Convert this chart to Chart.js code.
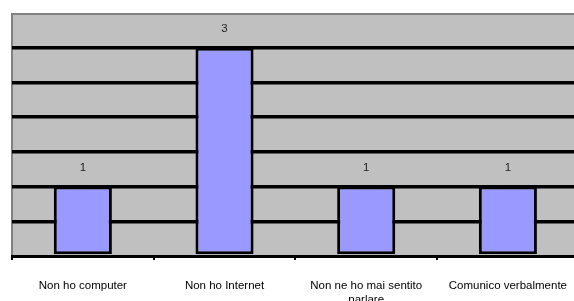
<!DOCTYPE html>
<html>
<head>
<meta charset="utf-8">
<script src="https://cdn.jsdelivr.net/npm/chart.js@4"></script>
<style>
  html, body { margin: 0; padding: 0; background: #fff; overflow: hidden; }
  #wrap { width: 586px; height: 301px; }
</style>
</head>
<body>
<div id="wrap"><canvas id="chart"></canvas></div>
<script>
// data
const categories = [
  'Non ho computer',
  'Non ho Internet',
  ['Non ne ho mai sentito', 'parlare'],
  'Comunico verbalmente'
];
const answers = [1, 3, 1, 1];
const yMax = 3.5;
const yStep = 0.5;

// grey plot background with the darker frame on left/top
const plotBg = {
  id: 'plotBg',
  beforeDraw(chart) {
    const { ctx, chartArea: a } = chart;
    ctx.save();
    ctx.fillStyle = '#C0C0C0';
    ctx.fillRect(a.left, a.top, a.right - a.left, a.bottom - a.top);
    ctx.fillStyle = '#808080';
    ctx.fillRect(a.left - 1, a.top, 2, a.bottom - a.top);
    ctx.fillRect(a.left, a.top, a.right - a.left, 2);
    ctx.restore();
  }
};

// value written above every bar
const valueLabels = {
  id: 'valueLabels',
  afterDatasetsDraw(chart) {
    const { ctx } = chart;
    const meta = chart.getDatasetMeta(0);
    ctx.save();
    ctx.font = '11.5px "Liberation Sans", Arial, sans-serif';
    ctx.fillStyle = '#222';
    ctx.textAlign = 'center';
    ctx.textBaseline = 'middle';
    meta.data.forEach((bar, i) => {
      const p = bar.getProps(['x', 'y'], true);
      ctx.fillText(String(answers[i]), p.x, p.y - 19);
    });
    ctx.restore();
  }
};

new Chart(document.getElementById('chart'), {
  type: 'bar',
  data: {
    labels: categories,
    datasets: [{
      data: answers,
      backgroundColor: '#9999FF',
      borderColor: '#000',
      borderWidth: 3,
      borderSkipped: false,
      barPercentage: 0.41,
      categoryPercentage: 1
    }]
  },
  options: {
    responsive: true,
    maintainAspectRatio: false,
    animation: false,
    layout: { padding: { left: 12, top: 13, right: 0, bottom: 0 } },
    plugins: { legend: { display: false }, tooltip: { enabled: false } },
    scales: {
      y: {
        min: 0, max: yMax,
        ticks: { display: false, stepSize: yStep },
        border: { display: false },
        grid: {
          drawTicks: false,
          lineWidth: 3.5,
          color: ctx => (ctx.tick && ctx.tick.value > 0 && ctx.tick.value < yMax) ? '#000' : 'rgba(0,0,0,0)'
        },
        afterFit(scale) { scale.width = 0; }
      },
      x: {
        border: { display: true, color: '#000', width: 3 },
        grid: { drawOnChartArea: false, drawTicks: true, tickLength: 4, color: '#000', lineWidth: 2, offset: true },
        ticks: {
          color: '#000',
          padding: 19,
          maxRotation: 0,
          autoSkip: false,
          font: { family: '"Liberation Sans", Arial, sans-serif', size: 11.5 }
        },
        afterFit(scale) { scale.height = 45; }
      }
    }
  },
  plugins: [plotBg, valueLabels]
});
</script>
</body>
</html>
